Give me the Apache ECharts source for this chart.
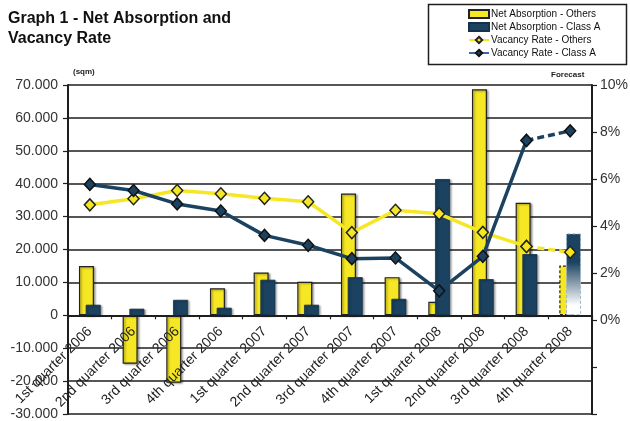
<!DOCTYPE html>
<html>
<head>
<meta charset="utf-8">
<title>Net Absorption and Vacancy Rate</title>
<script src="https://cdn.jsdelivr.net/npm/echarts@6/dist/echarts.min.js"></script>
<style>
  html, body { margin: 0; padding: 0; background: #ffffff; }
  #chart { width: 630px; height: 421px; }
</style>
</head>
<body>
<div id="chart"></div>
<script>
// Quarters on the horizontal axis
const categories = [
  '1st quarter 2006', '2nd quarter 2006', '3rd quarter 2006', '4th quarter 2006',
  '1st quarter 2007', '2nd quarter 2007', '3rd quarter 2007', '4th quarter 2007',
  '1st quarter 2008', '2nd quarter 2008', '3rd quarter 2008', '4th quarter 2008'
];

// Net absorption (sqm)
const absorptionOthers = [15000, -14700, -20500, 8200, 13000, 10200, 37000, 11600, 4100, 68700, 34200, 15100];
const absorptionClassA = [3200, 2000, 4700, 2300, 10800, 3200, 11600, 5000, 41400, 11000, 18600, 24900];

// Vacancy rate (%)
const vacancyOthers = [4.90, 5.16, 5.51, 5.37, 5.18, 5.03, 3.72, 4.67, 4.52, 3.73, 3.13, 2.88];
const vacancyClassA = [5.77, 5.51, 4.94, 4.64, 3.60, 3.18, 2.61, 2.64, 1.24, 2.71, 7.64, 8.05];

// Index of the first forecast quarter
const forecastStart = 11;

// Axis tick values
const sqmTicks = { min: -30000, max: 70000, step: 10000 };
const rateTicks = { min: -4, max: 10, step: 2 };

const YELLOW = '#f6e724';
const NAVY = '#1b4260';
const INK = '#1e1e1e';
const FONT = 'Liberation Sans, Arial, sans-serif';

const CHART_H = 421;
const GRID = { left: 68, right: 38, top: 85, bottom: 7 };
// Lift the category axis from the grid bottom up to the zero line of the sqm axis
const plotH = CHART_H - GRID.top - GRID.bottom;
const zeroLift = plotH * (0 - sqmTicks.min) / (sqmTicks.max - sqmTicks.min);

function formatSqm(v) {
  if (v === 0) return '0';
  const s = Math.abs(v).toString().replace(/\B(?=(\d{3})+(?!\d))/g, '.');
  return (v < 0 ? '-' : '') + s;
}

const barShadow = { shadowColor: 'rgba(0,0,0,0.35)', shadowBlur: 2, shadowOffsetX: 1.5, shadowOffsetY: 1 };

const othersBars = absorptionOthers.map((v, i) => i >= forecastStart
  ? { value: v, itemStyle: { borderType: [3, 2], borderColor: '#222', borderWidth: 1.2, shadowBlur: 0, shadowOffsetX: 0, shadowOffsetY: 0 } }
  : v);

const classABars = absorptionClassA.map((v, i) => i >= forecastStart
  ? {
      value: v,
      itemStyle: {
        color: new echarts.graphic.LinearGradient(0, 0, 0, 1, [
          { offset: 0, color: NAVY },
          { offset: 0.35, color: NAVY },
          { offset: 0.88, color: '#ffffff' },
          { offset: 1, color: '#ffffff' }
        ]),
        borderType: [3, 2], borderColor: '#9fb6c8', borderWidth: 1,
        shadowBlur: 0, shadowOffsetX: 0, shadowOffsetY: 0
      }
    }
  : v);

const actualPart = arr => arr.map((v, i) => i < forecastStart ? v : '-');
const forecastPart = arr => arr.map((v, i) => i >= forecastStart - 1 ? v : '-');

const chart = echarts.init(document.getElementById('chart'), null, { renderer: 'canvas' });

chart.setOption({
  animation: false,
  backgroundColor: '#ffffff',
  title: {
    text: 'Graph 1 - Net Absorption and\nVacancy Rate',
    left: 8, top: 9, padding: 0,
    textStyle: { fontFamily: FONT, fontSize: 16, fontWeight: 'bold', color: '#111', lineHeight: 20 }
  },
  legend: {
    orient: 'vertical',
    left: 463, top: 3,
    itemWidth: 20, itemHeight: 8, itemGap: 1,
    textStyle: { fontFamily: FONT, fontSize: 10, color: '#111', lineHeight: 12, padding: [0, 0, 0, -3] },
    data: [
      { name: 'Net Absorption - Others', icon: 'rect' },
      { name: 'Net Absorption - Class A', icon: 'rect' },
      { name: 'Vacancy Rate - Others' },
      { name: 'Vacancy Rate - Class A', lineStyle: { color: '#3f63b5' } }
    ]
  },
  graphic: [
    { type: 'rect', left: 426, top: 2, shape: { width: 198, height: 60 },
      style: { fill: 'none', stroke: INK, lineWidth: 1.5 }, z: -1 },
    { type: 'text', left: 73, top: 68,
      style: { text: '(sqm)', font: 'bold 8px ' + FONT, fill: '#222' } },
    { type: 'text', left: 551, top: 71,
      style: { text: 'Forecast', font: 'bold 8px ' + FONT, fill: '#222' } }
  ],
  grid: Object.assign({ containLabel: false, outerBoundsMode: 'none' }, GRID),
  xAxis: {
    type: 'category',
    data: categories,
    position: 'bottom',
    offset: -zeroLift,
    z: 4,
    axisLine: { onZero: false, lineStyle: { color: INK, width: 2 } },
    axisTick: { show: true, length: 4, lineStyle: { color: INK, width: 1.2 } },
    axisLabel: { rotate: 45, margin: 14, fontFamily: FONT, fontSize: 14, color: '#222', interval: 0 },
    splitLine: { show: false }
  },
  yAxis: [
    {
      type: 'value',
      min: sqmTicks.min, max: sqmTicks.max, interval: sqmTicks.step,
      axisLine: { show: true, onZero: false, lineStyle: { color: INK, width: 2 } },
      axisTick: { show: true, length: 5, lineStyle: { color: INK, width: 1.2 } },
      axisLabel: { formatter: formatSqm, fontFamily: FONT, fontSize: 14, color: '#333', margin: 10 },
      splitLine: { show: true, lineStyle: { color: INK, width: 1.5 } }
    },
    {
      type: 'value',
      position: 'right',
      min: rateTicks.min, max: rateTicks.max, interval: rateTicks.step,
      axisLine: { show: true, onZero: false, lineStyle: { color: INK, width: 2 } },
      axisTick: { show: true, length: 5, lineStyle: { color: INK, width: 1.2 } },
      axisLabel: { formatter: v => v < 0 ? '' : v + '%', fontFamily: FONT, fontSize: 14, color: '#333', margin: 8 },
      splitLine: { show: false }
    }
  ],
  series: [
    {
      name: 'Net Absorption - Others', type: 'bar', yAxisIndex: 0,
      barWidth: 15, barGap: '-55%',
      itemStyle: Object.assign({ color: YELLOW, borderColor: '#222', borderWidth: 1.2 }, barShadow),
      data: othersBars, z: 2
    },
    {
      name: 'Net Absorption - Class A', type: 'bar', yAxisIndex: 0,
      barWidth: 15, barGap: '-55%',
      itemStyle: Object.assign({ color: NAVY, borderColor: '#16324a', borderWidth: 0.8 }, barShadow),
      data: classABars, z: 2
    },
    {
      name: 'Vacancy Rate - Others', type: 'line', yAxisIndex: 1,
      data: actualPart(vacancyOthers),
      symbol: 'diamond', symbolSize: [11, 12],
      itemStyle: { color: YELLOW, borderColor: '#222', borderWidth: 1.5 },
      lineStyle: { color: YELLOW, width: 3.5 }, z: 5
    },
    {
      name: 'Vacancy Rate - Others', type: 'line', yAxisIndex: 1,
      data: forecastPart(vacancyOthers),
      symbol: 'diamond', symbolSize: [11, 12],
      itemStyle: { color: YELLOW, borderColor: '#222', borderWidth: 1.5 },
      lineStyle: { color: YELLOW, width: 3.5, type: [7, 4] }, z: 5
    },
    {
      name: 'Vacancy Rate - Class A', type: 'line', yAxisIndex: 1,
      data: actualPart(vacancyClassA),
      symbol: 'diamond', symbolSize: [11, 12],
      itemStyle: { color: NAVY, borderColor: '#111', borderWidth: 1.5 },
      lineStyle: { color: NAVY, width: 3.5 }, z: 6
    },
    {
      name: 'Vacancy Rate - Class A', type: 'line', yAxisIndex: 1,
      data: forecastPart(vacancyClassA),
      symbol: 'diamond', symbolSize: [11, 12],
      itemStyle: { color: NAVY, borderColor: '#111', borderWidth: 1.5 },
      lineStyle: { color: NAVY, width: 3.5, type: [7, 4] }, z: 6
    }
  ]
});
</script>
</body>
</html>
